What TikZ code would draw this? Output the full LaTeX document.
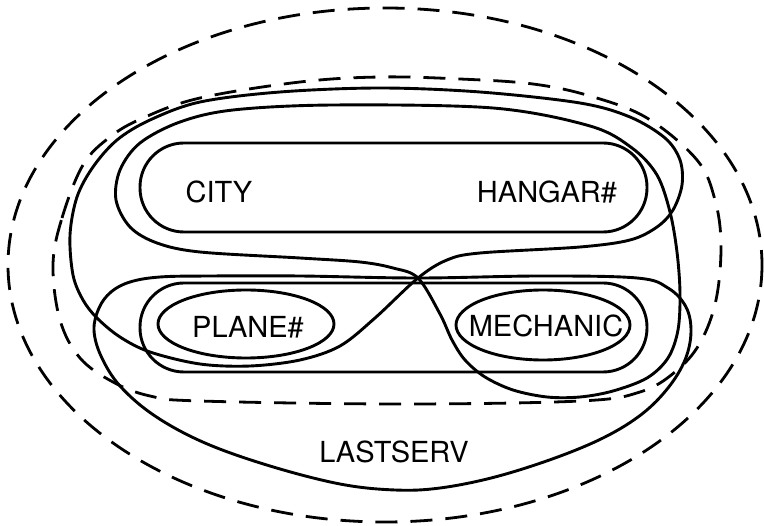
\documentclass[tikz,border=0pt]{standalone}
\usepackage{fontspec}
\setmainfont{TeX Gyre Heros}
\usetikzlibrary{calc}

\begin{document}
\begin{tikzpicture}[x=1pt,y=-1pt,line join=round,line cap=round,
			hedge/.style={line width=2.9pt},
			dhedge/.style={line width=2.8pt,line cap=butt,dash pattern=on 22pt off 13pt},
			attr/.style={font=\fontsize{29}{32}\selectfont,inner sep=0pt},
			]
			\useasboundingbox (0,0) rectangle (764,526);
			\coordinate (X) at (418,278); % pinch point of the curves
			
			% attributes
			\node[attr] (city) at (219,192) {CITY};
			\node[attr] (hangar) at (547,192) {HANGAR\#};
			\node[attr] (plane) at (248,327) {PLANE\#};
			\node[attr] (mech) at (546,326) {MECHANIC};
			\node[attr] (last) at (394,452) {LASTSERV};
			
			% single edges
			\draw[hedge] ($(plane)+(-2,-3)$) ellipse [x radius=88,y radius=34];
			\draw[hedge] ($(mech)+(-3,-1)$) ellipse [x radius=87,y radius=35];
			
			% pair edges
			\draw[hedge,rounded corners=44pt] (140,143) rectangle (647,232);
			\draw[hedge,rounded corners=44pt] (140,283) rectangle (647,372);
			
			% CITY HANGAR# PLANE#
			\draw[hedge] plot[smooth cycle,tension=0.55] coordinates {
				(X) (447,260) (480,253) (580,247) (630,240) (657,227) (673,210)
				(682,185) (680,160) (665,138) (630,117) (580,103) (480,92) (380,88)
				(280,92) (200,102) (150,120) (117,140) (93,167) (77,197) (70,235)
				(73,275) (83,300) (97,318) (120,337) (150,352) (200,364) (250,366)
				(300,360) (340,346) (375,318)};
			
			% CITY HANGAR# MECHANIC
			\draw[hedge] plot[smooth cycle,tension=0.55] coordinates {
				(X) (440,314) (452,340) (465,360) (485,377) (513,390) (547,397)
				(580,397) (613,391) (647,378) (668,358) (678,330) (680,293)
				(677,252) (670,212) (657,175) (632,148) (590,126) (493,108) (333,105)
				(233,110) (180,122) (140,143) (120,170) (116,200) (130,227) (157,243)
				(200,252) (300,258) (360,262) (393,268)};
			
			% PLANE# MECHANIC LASTSERV
			\draw[hedge] plot[smooth cycle,tension=0.6] coordinates {
				(X) (540,276) (637,278) (668,288) (686,307) (691,332) (685,360)
				(668,388) (642,414) (605,437) (555,458) (495,477) (440,488) (395,490)
				(340,484) (270,466) (205,443) (155,416) (120,386) (101,356)
				(94,330) (99,308) (111,292) (130,282) (160,277) (210,276) (300,276)};
			
			% dashed edges
			\draw[dhedge] plot[smooth cycle,tension=0.6] coordinates {
				(53,265) (62,218) (83,165) (110,137) (143,118) (200,98) (300,82)
				(380,77) (460,79) (533,84) (590,96) (647,118) (697,160) (715,200)
				(721,245) (716,300) (700,343) (675,372) (640,392) (580,401)
				(400,404) (200,401) (150,396) (113,382) (80,358) (60,320)};
			\draw[dhedge] (385,265) ellipse [x radius=377,y radius=257];
		\end{tikzpicture}
\end{document}
